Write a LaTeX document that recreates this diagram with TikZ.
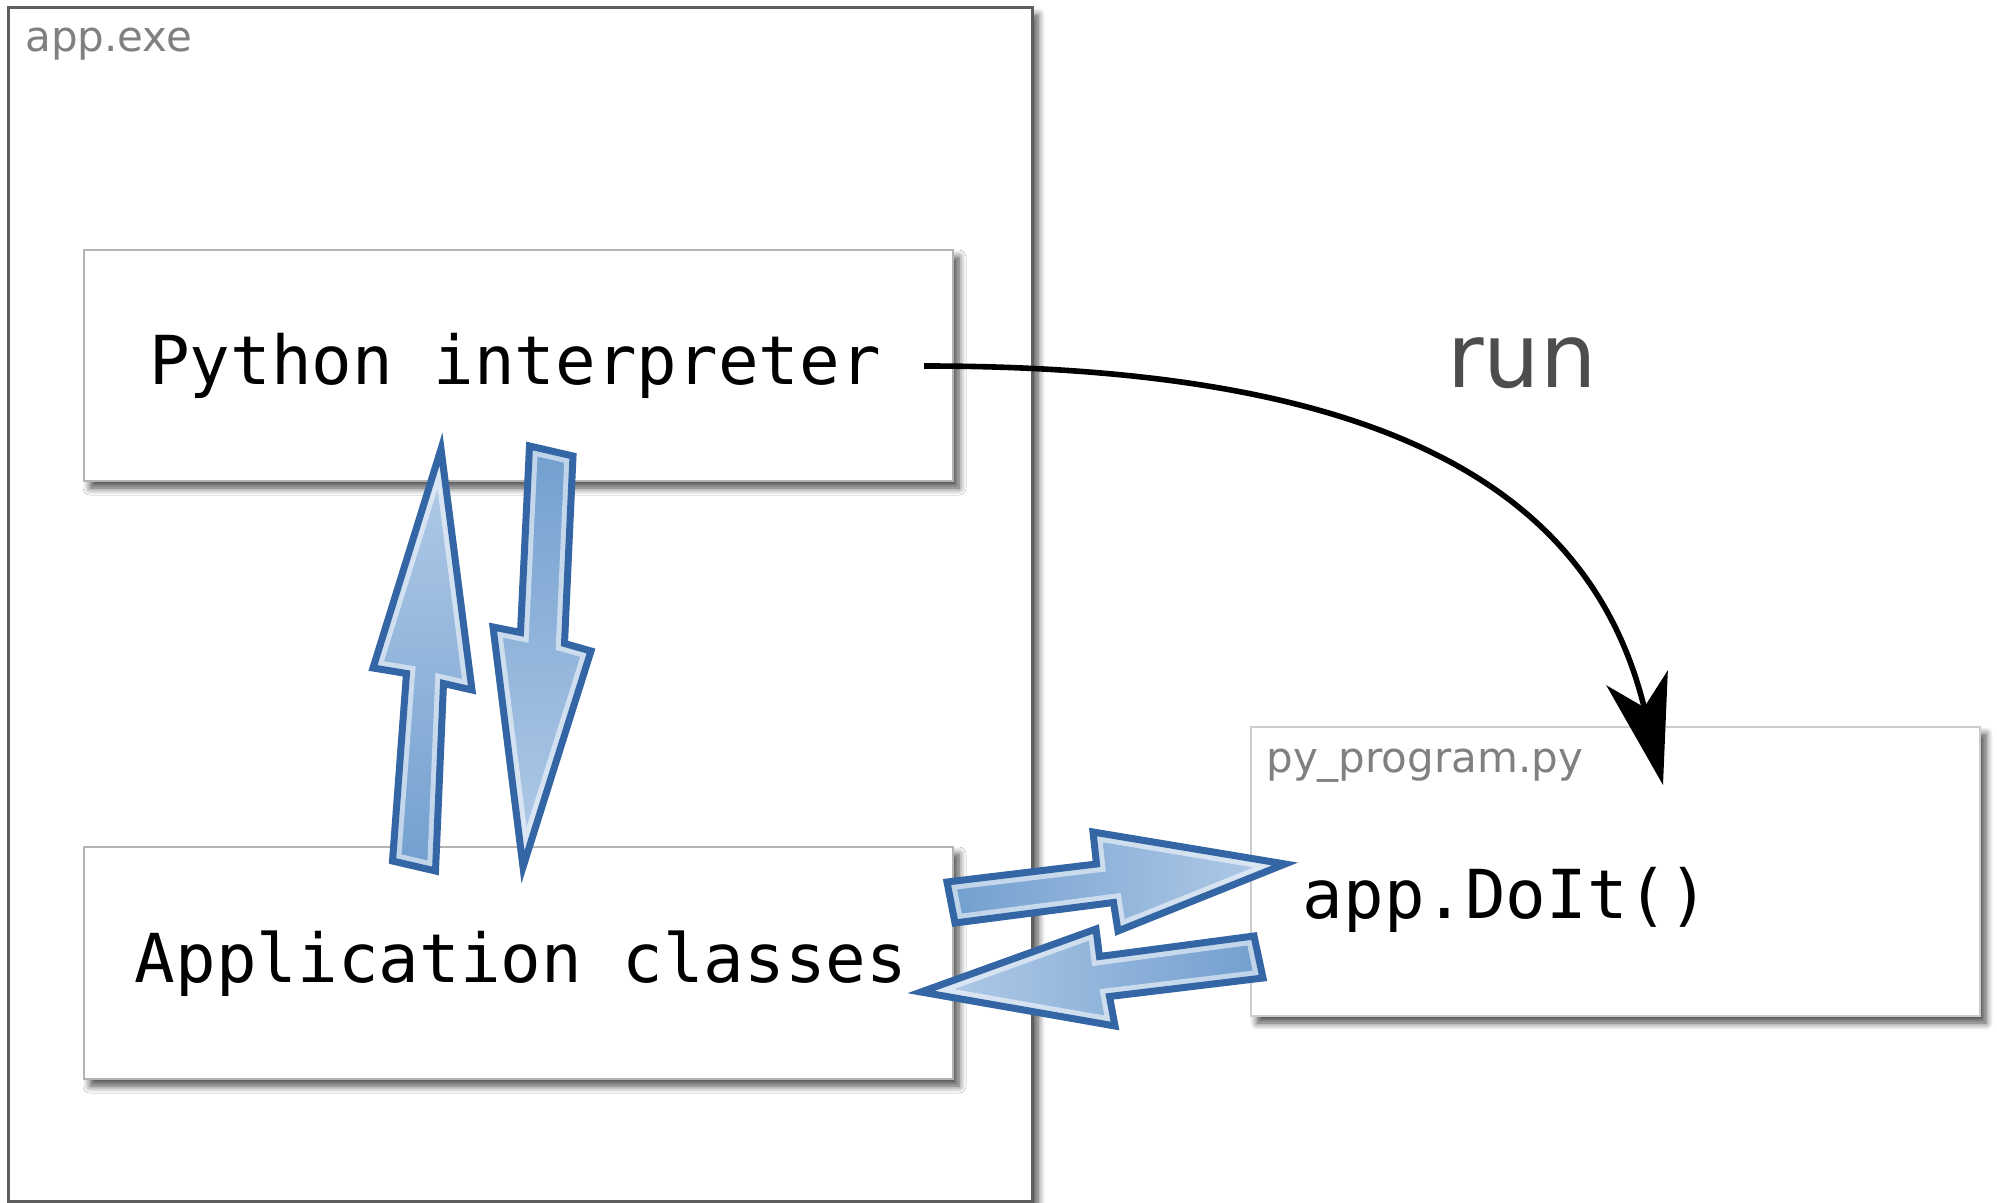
\documentclass[tikz,border=0pt]{standalone}
\usepackage{fontspec}
\newfontfamily\dvmono{DejaVu Sans Mono}
\newfontfamily\dvsans{DejaVu Sans}
\usetikzlibrary{shadows.blur,arrows.meta}
\definecolor{arrowdark}{HTML}{3465A4}
\definecolor{arrowmid}{HTML}{729FCF}
\definecolor{arrowlite}{HTML}{B4CCE8}
\definecolor{outerline}{HTML}{5E5E5E}
\definecolor{innerline}{HTML}{B3B3B3}
\definecolor{pyline}{HTML}{CCCCCC}
\definecolor{labelgray}{HTML}{808080}
\definecolor{rungray}{HTML}{4D4D4D}
\newcommand\fatArrowShape[2]{%
  \path[#1] #2 -- cycle;
  \begin{scope}
    \clip #2 -- cycle;
    \draw[white, opacity=0.55, line width=8.5pt, line join=miter] #2 -- cycle;
  \end{scope}
  \draw[arrowdark, line width=3.5pt, line join=miter] #2 -- cycle;
}
\begin{document}
\begin{tikzpicture}[x=0.5pt,y=-0.5pt,
  box/.style={draw, fill=white, rectangle, inner sep=0pt, outer sep=0pt},
  boxshadow/.style={blur shadow={shadow xshift=3pt,shadow yshift=-3.5pt,shadow blur radius=3.5pt,shadow blur steps=8,shadow opacity=70}},
  codetext/.style={font=\dvmono\fontsize{33.75pt}{40pt}\selectfont, inner sep=0pt, anchor=base, text=black},
  filelabel/.style={font=\dvsans\fontsize{21pt}{25pt}\selectfont, text=labelgray, inner sep=0pt, anchor=base west},
]
\useasboundingbox (0,0) rectangle (1997,1203);
\node[box, boxshadow, draw=outerline, line width=1.5pt, minimum width=512pt, minimum height=596.5pt] (exe) at (520,604.5) {};
\node[filelabel] (exelabel) at (25,52) {app.exe};
\node[box, boxshadow, draw=innerline, line width=1pt, minimum width=434.5pt, minimum height=115.5pt] (interp) at (518.5,365.5) {};
\node[box, boxshadow, draw=innerline, line width=1pt, minimum width=434.5pt, minimum height=116pt] (classes) at (518.5,963) {};
\node[box, boxshadow, draw=pyline, line width=1pt, minimum width=364.5pt, minimum height=144.5pt] (pybox) at (1615.5,871.5) {};
\node[filelabel] (pylabel) at (1266,772) {py\_program.py};
\node[codetext] (interptext) at (515,385) {Python interpreter};
\node[codetext] (classtext) at (521,982) {Application classes};
\node[codetext] (doit) at (1506,918) {app.DoIt()};
\node[font=\dvsans\fontsize{44.5pt}{54pt}\selectfont, text=rungray, inner sep=0pt, anchor=base] (runlabel) at (1522,388) {run};
\coordinate (runstart) at (924,366);
\coordinate (runend) at (1663,785);
\draw[line width=2.8pt, -{Stealth[length=55pt,width=31.5pt,inset=15pt]}] (runstart) .. controls (1390,366) and (1592,492) .. (runend);
\fatArrowShape{top color=arrowlite, bottom color=arrowmid}{(441,449) -- (472,690) -- (443.5,683.5) -- (435.5,871) -- (392.5,861) -- (406.5,673.5) -- (373,668)}
\fatArrowShape{top color=arrowmid, bottom color=arrowlite}{(529.5,446) -- (573,456) -- (564.5,643.5) -- (591,651) -- (523,867) -- (493,627) -- (520.5,632.5)}
\fatArrowShape{left color=arrowmid, right color=arrowlite}{(947,882) -- (1096.5,864) -- (1093,832) -- (1285,864) -- (1118,931) -- (1113.5,902.5) -- (955,923)}
\fatArrowShape{left color=arrowlite, right color=arrowmid}{(921,992) -- (1096,929) -- (1099.5,956.5) -- (1254,936) -- (1263,978) -- (1109.5,996.5) -- (1115,1026)}
\end{tikzpicture}
\end{document}
